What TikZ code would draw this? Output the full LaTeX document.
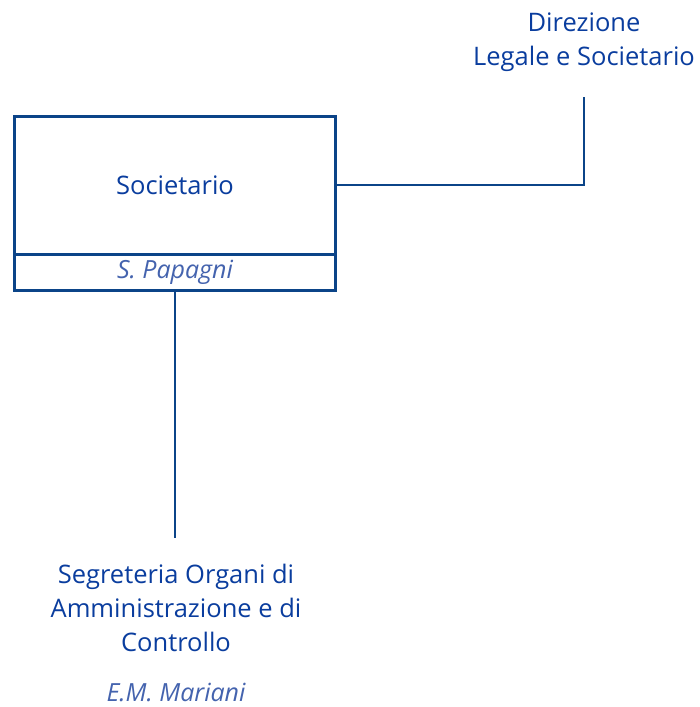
\documentclass[tikz,border=0pt]{standalone}
\usepackage{fontspec}
\setmainfont{Open Sans}
\usetikzlibrary{positioning}
\definecolor{orgblue}{HTML}{0A3D9E}
\definecolor{boxline}{HTML}{0B4488}
\definecolor{namecol}{HTML}{4463AE}

\begin{document}
\begin{tikzpicture}[
    x=1pt, y=-1pt,
    every node/.style={font=\fontsize{25.5}{34}\selectfont, text=orgblue},
    % Connector line
    link/.style={line width=2pt, boxline},
    % Unit box (top part)
    unitbox/.style={rectangle, draw=boxline, line width=3pt, fill=white,
                    minimum width=321pt, minimum height=138pt, inner sep=0pt,
                    outer sep=0pt},
    % Name strip below unit box
    namebox/.style={rectangle, draw=boxline, line width=3pt, fill=white,
                    minimum width=321pt, minimum height=36pt, inner sep=0pt,
                    outer sep=0pt,
                    font=\itshape\fontsize{25}{28}\selectfont, text=namecol},
    % Free-standing unit label
    lbl/.style={align=center, inner sep=0pt}
]
\useasboundingbox (0,0) rectangle (699,707);

% ---------- Parent unit ----------
\node[lbl] (dir) at (584,42) {Direzione\\Legale e Societario};
\coordinate (dirfoot) at (584,97);

% ---------- Unit box ----------
\node[unitbox] (soc) at (175,185) {Societario};
\node[namebox, below=0pt of soc] (socname) {S. Papagni};

% ---------- Child unit ----------
\node[lbl] (segr) at (176,608) {Segreteria Organi di\\Amministrazione e di\\Controllo};
\node[lbl, font=\itshape\fontsize{25}{28}\selectfont, text=namecol] (segrname) at (176,692) {E.M. Mariani};
\coordinate (segrtop) at (176,538);

% ---------- Connectors ----------
\draw[link] (soc.east) -| (dirfoot);
\draw[link] (socname.south) -- (socname.south |- segrtop);

\end{tikzpicture}
\end{document}
